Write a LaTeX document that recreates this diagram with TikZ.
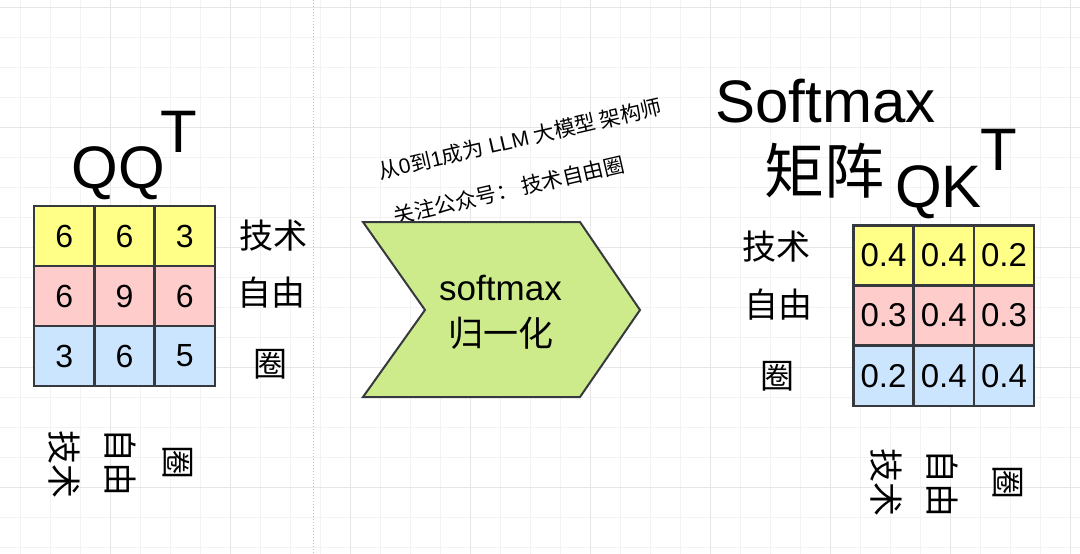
\documentclass[tikz,border=0pt]{standalone}
\usepackage{fontspec}
\setmainfont{Liberation Sans}
\newfontfamily\cjk{Noto Sans CJK SC}

\definecolor{cellyellow}{HTML}{FFFF88}
\definecolor{cellpink}{HTML}{FFCCCC}
\definecolor{cellblue}{HTML}{CCE5FF}
\definecolor{stepgreen}{HTML}{CDEB8B}
\definecolor{edgegray}{HTML}{36393D}
\definecolor{gridminor}{HTML}{F3F3F3}
\definecolor{gridmajor}{HTML}{E6E6E6}

\tikzset{
  cell/.style={draw=edgegray, line width=2.5pt, minimum width=60pt, minimum height=60pt, inner sep=0pt},
  lbl/.style={inner sep=0pt, font=\fontsize{34}{34}\selectfont\cjk},
  big/.style={inner sep=0pt, font=\fontsize{60}{60}\selectfont},
  slogan/.style={inner sep=0pt, rotate=13, font=\fontsize{21}{21}\selectfont},
}

\begin{document}
\begin{tikzpicture}[x=1pt,y=-1pt]

    \useasboundingbox (0,0) rectangle (1080,554);
    \fill[white] (0,0) rectangle (1080,554);

    % background grid
    \foreach \gx in {20,50,...,1070} \draw[gridminor, line width=1pt] (\gx,0) -- (\gx,554);
    \foreach \gy in {7.5,37.5,...,547.5} \draw[gridminor, line width=1pt] (0,\gy) -- (1080,\gy);
    \foreach \gx in {110,230,...,1070} \draw[gridmajor, line width=1pt] (\gx,0) -- (\gx,554);
    \foreach \gy in {7.5,127.5,...,487.5} \draw[gridmajor, line width=1pt] (0,\gy) -- (1080,\gy);

    \draw[gray!50, dotted, line width=1pt] (313,0) -- (313,554);

    % left matrix
    \begin{scope}[font=\fontsize{32}{32}\selectfont]
    \foreach \a/\b/\c/\col [count=\r] in {6/6/3/cellyellow, 6/9/6/cellpink, 3/6/5/cellblue} {
        \node[cell, fill=\col] (qq-\r-1) at (64.2,176+60*\r) {\a};
        \node[cell, fill=\col] (qq-\r-2) at (124.5,176+60*\r) {\b};
        \node[cell, fill=\col] (qq-\r-3) at (184.8,176+60*\r) {\c};
    }
    \end{scope}

    \node[big, anchor=base] (qq) at (118,188) {QQ};
    \node[big, anchor=base] (qqT) at (179,152) {T};

    \node[lbl] (qqr1) at (273,236) {技术};
    \node[lbl] (qqr2) at (271,293) {自由};
    \node[lbl] (qqr3) at (270,364) {圈};

    \node[lbl, rotate=-90] (qqc1) at (64,464) {技术};
    \node[lbl, rotate=-90] (qqc2) at (120,462) {自由};
    \node[lbl, rotate=-90] (qqc3) at (178,462) {圈};

    % slogan
    \node[slogan] (line1) at (520,139) {{\cjk 从}0{\cjk 到}1{\cjk 成为} LLM {\cjk 大模型 架构师}};
    \node[slogan] (line2) at (509,190) {\cjk 关注公众号： 技术自由圈};

    % step arrow
    \draw[fill=stepgreen, draw=edgegray, line width=2pt] (363,222) -- (580,222) -- (640,310) -- (580,397) -- (363,397) -- (425,310) -- cycle;
    \node[inner sep=0pt, anchor=base, font=\fontsize{35}{35}\selectfont] (sm) at (500.5,300) {softmax};
    \node[inner sep=0pt, font=\fontsize{35}{35}\selectfont\cjk] (norm) at (501,333) {归一化};

    % right matrix
    \node[big, anchor=base] (soft) at (825.5,122) {Softmax};
    \node[big, font=\fontsize{60}{60}\selectfont\cjk] (mat) at (824.5,171) {矩阵};
    \node[big, anchor=base] (qk) at (938.5,207) {QK};
    \node[big, anchor=base] (qkT) at (999,170) {T};

    \begin{scope}[font=\fontsize{33}{33}\selectfont]
    \foreach \a/\b/\c/\col [count=\r] in {0.4/0.4/0.2/cellyellow, 0.3/0.4/0.3/cellpink, 0.2/0.4/0.4/cellblue} {
        \node[cell, fill=\col] (qk-\r-1) at (883.5,195+60.3*\r) {\a};
        \node[cell, fill=\col] (qk-\r-2) at (943.8,195+60.3*\r) {\b};
        \node[cell, fill=\col] (qk-\r-3) at (1004,195+60.3*\r) {\c};
    }
    \end{scope}

    \node[lbl] (qkr1) at (776,247) {技术};
    \node[lbl] (qkr2) at (778,305) {自由};
    \node[lbl] (qkr3) at (777,376) {圈};

    \node[lbl, rotate=-90] (qkc1) at (886,482) {技术};
    \node[lbl, rotate=-90] (qkc2) at (942,483) {自由};
    \node[lbl, rotate=-90] (qkc3) at (1008,482) {圈};

\end{tikzpicture}
\end{document}
